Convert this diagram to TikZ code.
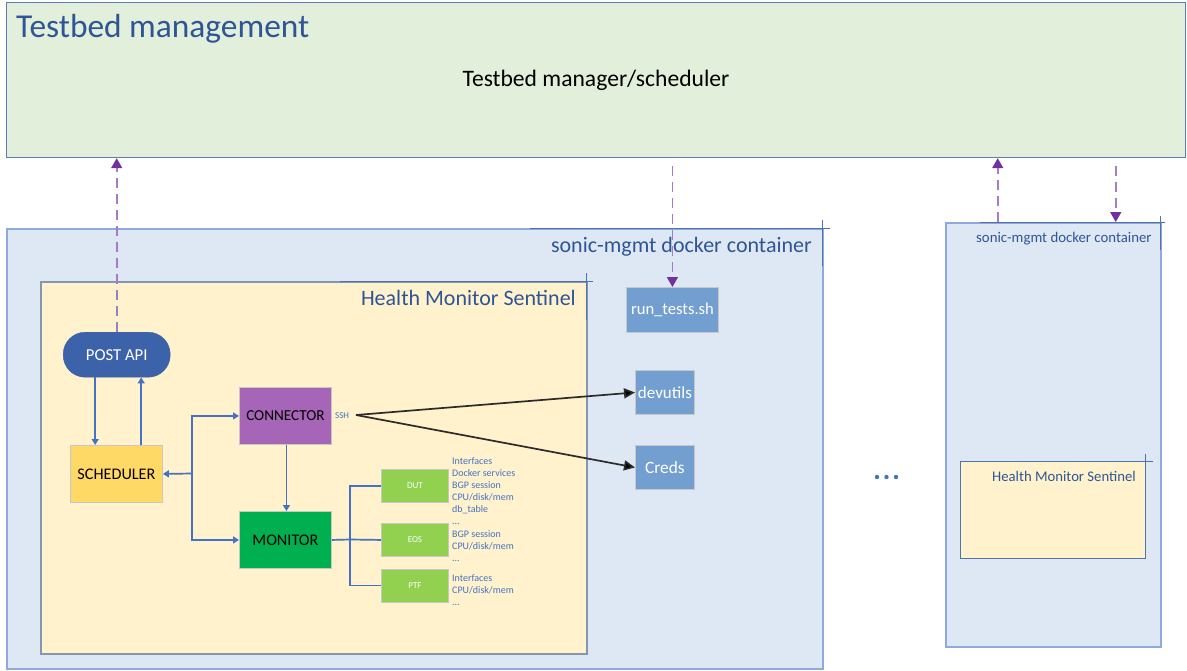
\documentclass[tikz,border=0pt]{standalone}
\usepackage{fontspec}
\setmainfont{Carlito}
\usetikzlibrary{arrows.meta,calc}
\definecolor{tbgreen}{HTML}{E2EFDA}
\definecolor{tbline}{HTML}{5B7DB5}
\definecolor{tbtitle}{HTML}{2F5597}
\definecolor{contblue}{HTML}{DEE8F4}
\definecolor{contline}{HTML}{8EA9DB}
\definecolor{contdark}{HTML}{4F72B0}
\definecolor{hmsfill}{HTML}{FFF2CC}
\definecolor{hmsline}{HTML}{8497B0}
\definecolor{toolblue}{HTML}{729FCF}
\definecolor{postblue}{HTML}{3C62AA}
\definecolor{schedyel}{HTML}{FFD966}
\definecolor{connpurp}{HTML}{A765B8}
\definecolor{mongreen}{HTML}{00B050}
\definecolor{devgreen}{HTML}{92D050}
\definecolor{linkblue}{HTML}{4472C4}
\definecolor{dashpurp}{HTML}{A47CC8}
\definecolor{tippurp}{HTML}{7030A0}
\definecolor{sshline}{HTML}{2B2B2B}
\tikzset{
  fs/.style={font=\fontsize{#1}{#1}\selectfont},
  blk/.style 2 args={draw=black!22, line width=0.9pt, inner sep=0pt, anchor=north west,
     minimum width=#1, minimum height=#2},
  tool/.style 2 args={blk={#1}{#2}, fill=toolblue, text=white},
  dev/.style={blk={67pt}{33pt}, fill=devgreen, text=white, fs=9},
  lst/.style={anchor=north west, inner sep=0pt, align=left, text=linkblue,
     font=\fontsize{10}{12}\selectfont},
  bl/.style={draw=linkblue, line width=1.7pt, -{Triangle[length=6pt,width=7pt]}},
  bln/.style={draw=linkblue, line width=1.7pt},
  ssh/.style={draw=sshline, line width=1.7pt, -{Triangle[length=11pt,width=10pt,fill=black]}},
  pd/.style={draw=dashpurp, line width=1.6pt, dash pattern=on 10pt off 6pt,
     -{Triangle[length=10pt,width=11pt,fill=tippurp,color=tippurp]}},
  cont/.style 2 args={draw=contline, line width=1.5pt, fill=contblue, inner sep=0pt,
     anchor=north west, minimum width=#1, minimum height=#2},
  hms/.style 2 args={draw=hmsline, line width=1.5pt, fill=hmsfill, inner sep=0pt,
     anchor=north west, minimum width=#1, minimum height=#2},
}
\begin{document}
\begin{tikzpicture}[x=1pt,y=-1pt]
\useasboundingbox (0,0) rectangle (1187,670);
\fill[white] (0,0) rectangle (1187,670);

% Testbed management
\node[draw=tbline, line width=1.2pt, fill=tbgreen, inner sep=0pt, anchor=north west,
      minimum width=1179pt, minimum height=155pt] (tb) at (6,2) {};
\node[anchor=base west, inner sep=0pt, text=tbtitle, fs=33.4] (tbt) at (16,37) {Testbed management};
\node[inner sep=0pt, fs=23.6] (tbm) at (596,80) {Testbed manager/scheduler};

% main container
\node[cont={816pt}{440pt}] (mc) at (6,228) {};
\draw[contdark, line width=1pt] (530,228) -- (830,228) (822,220) -- (822,266);
\node[anchor=base east, inner sep=0pt, text=tbtitle, fs=22] (mct) at (812,252) {sonic-mgmt docker container};

% HMS
\node[hms={546pt}{372pt}] (hm) at (40,281) {};
\draw[contdark, line width=1pt] (340,281) -- (593,281) (586,273) -- (586,320);
\node[anchor=base east, inner sep=0pt, text=tbtitle, fs=22] (hmt) at (576,305) {Health Monitor Sentinel};

% tools
\node[tool={92pt}{45pt}, fs=16.6] (runt) at (626,287) {run\_tests.sh};
\node[tool={59pt}{44pt}, fs=17] (devu) at (635,370) {devutils};
\node[tool={59pt}{44pt}, fs=17.3] (cred) at (635,445) {Creds};

% HMS blocks
\node[draw=postblue, fill=postblue, rounded corners=22pt, inner sep=0pt, anchor=north west,
      minimum width=107pt, minimum height=45pt, text=white, fs=16.7] (post) at (63,332) {POST API};
\node[blk={92pt}{57pt}, fill=schedyel, fs=16.2] (sched) at (70,445) {SCHEDULER};
\node[blk={92pt}{57pt}, fill=connpurp, fs=15.2] (conn) at (239,387) {CONNECTOR};
\node[blk={92pt}{57pt}, fill=mongreen, fs=16.2] (mon) at (239,511) {MONITOR};
\node[dev] (dut) at (381,469) {DUT};
\node[dev] (eos) at (381,523) {EOS};
\node[dev] (ptf) at (381,568.5) {PTF};

\node[lst] (dutl) at (452,457) {Interfaces\\Docker services\\BGP session\\CPU/disk/mem\\db\_table\\...};
\node[lst] (eosl) at (452,530.5) {BGP session\\CPU/disk/mem\\...};
\node[lst] (ptfl) at (452,574) {Interfaces\\CPU/disk/mem\\...};
\node[anchor=west, inner sep=0pt, text=linkblue, fs=9] (sshl) at (335,416) {SSH};

% blue connectors
\coordinate (pdn) at ($(post.south)+(-21.5,0)$);
\coordinate (pup) at ($(post.south)+(24.5,0)$);
\draw[bl] (pdn) -- (pdn |- sched.north);
\draw[bl] (pup |- sched.north) -- (pup);
\coordinate (bus) at (192,473.5);
\draw[bl] (bus) -- (sched.east);
\draw[bl] (bus) |- (conn.west);
\draw[bl] (bus) |- (mon.west);
\coordinate (cdn) at ($(conn.south)+(1,0)$);
\draw[bl] (cdn) -- (cdn |- mon.north);
\coordinate (dbus) at (350,539.5);
\draw[bln] (mon.east) -- (dbus);
\draw[bln] (dbus) |- (dut.west);
\draw[bln] (dbus) |- (ptf.west);
\draw[bln] (dbus) -- (eos.west);

% SSH arrows
\coordinate (sshs) at (356,415);
\draw[ssh] (sshs) -- (devu.west);
\draw[ssh] (sshs) -- (cred.west);

% right container
\node[cont={215pt}{424pt}] (rc) at (945,222) {};
\draw[contdark, line width=1pt] (980,222) -- (1165,222) (1160,216) -- (1160,250);
\node[anchor=base west, inner sep=0pt, text=tbtitle, fs=14.8] (rct) at (976,242) {sonic-mgmt docker container};
\node[hms={185pt}{97pt}, draw=contdark, line width=1pt] (rh) at (960,461) {};
\draw[contdark, line width=1pt] (975,461) -- (1153,461) (1145,454) -- (1145,492);
\node[anchor=base west, inner sep=0pt, text=tbtitle, fs=14.7] (rht) at (992,481) {Health Monitor Sentinel};

% dots
\fill[linkblue] (877,477) circle (2.2pt) (886.5,477) circle (2.2pt) (896,477) circle (2.2pt);

% purple dashed
\draw[pd] (post.north) -- (post.north |- tb.south);
\coordinate (rtop) at ($(tb.south -| runt.north)+(0,8)$);
\draw[pd] (rtop) -- (runt.north);
\coordinate (rcA) at ($(rc.north)+(-55.5,0)$);
\draw[pd] (rcA) -- (rcA |- tb.south);
\coordinate (rcB) at ($(rc.north)+(62.5,0)$);
\coordinate (rcBt) at ($(tb.south -| rcB)+(0,8)$);
\draw[pd] (rcBt) -- (rcB);
\end{tikzpicture}
\end{document}
